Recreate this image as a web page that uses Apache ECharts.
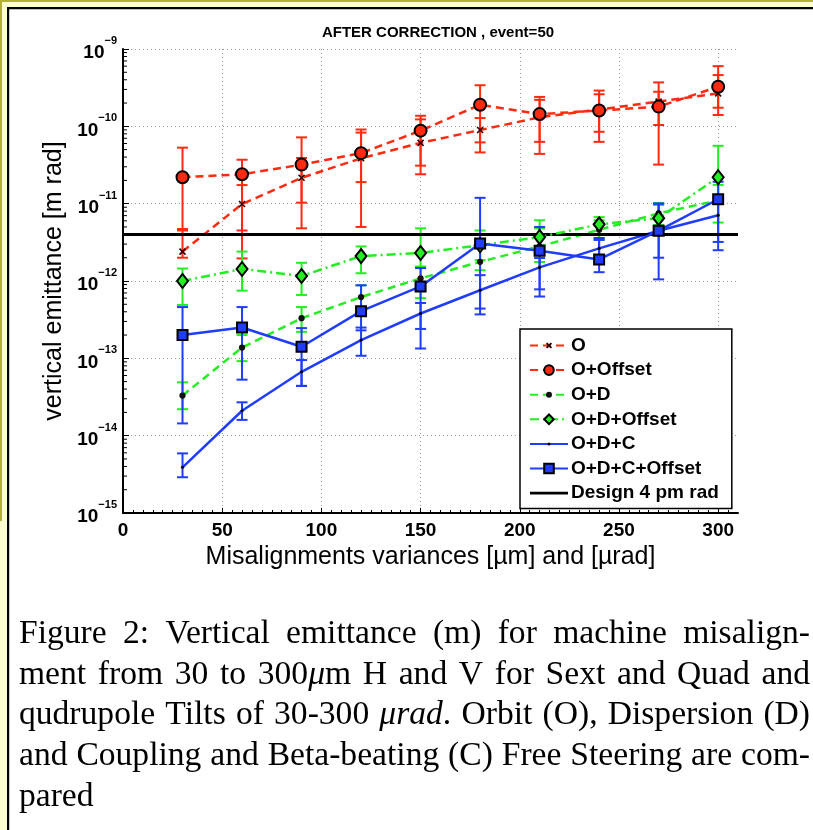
<!DOCTYPE html>
<html><head><meta charset="utf-8">
<script src="https://cdn.jsdelivr.net/npm/echarts@6/dist/echarts.min.js"></script>
<style>html,body{margin:0;padding:0;background:#fff}#c{width:813px;height:830px}</style>
</head><body><div id="c"></div>
<script>
// ---------------- data ----------------
const xValues = [30, 60, 90, 120, 150, 180, 210, 240, 270, 300];
const xTickValues = [0, 50, 100, 150, 200, 250, 300];
const yTickExponents = [-15, -14, -13, -12, -11, -10, -9];

const oVals  = [2.4e-12, 9.9e-12, 2.16e-11, 3.86e-11, 6.1e-11, 8.95e-11, 1.31e-10, 1.65e-10, 2.09e-10, 2.67e-10];
const oLo    = [2.0e-12, 1.96e-12, 1.03e-11, 1.9e-11, 3.1e-11, 6.2e-11, 6.3e-11, 8.5e-11, 1.04e-10, 1.74e-10];
const oHi    = [4.7e-12, 1.74e-11, 3.9e-11, 8.3e-11, 1.23e-10, 1.28e-10, 2.2e-10, 2.6e-10, 2.8e-10, 4.6e-10];

const ooVals = [2.2e-11, 2.4e-11, 3.2e-11, 4.5e-11, 8.8e-11, 1.9e-10, 1.44e-10, 1.6e-10, 1.8e-10, 3.25e-10];
const ooLo   = [4.5e-12, 4.5e-12, 4.8e-12, 5.0e-12, 2.4e-11, 4.6e-11, 4.4e-11, 6.3e-11, 3.2e-11, 1.4e-10];
const ooHi   = [5.3e-11, 3.7e-11, 7.2e-11, 9.1e-11, 1.37e-10, 3.4e-10, 2.4e-10, 2.9e-10, 3.7e-10, 6.0e-10];

const odVals = [3.3e-14, 1.38e-13, 3.3e-13, 6.2e-13, 1.08e-12, 1.77e-12, 2.8e-12, 4.6e-12, 7.5e-12, 1.1e-11];
const odLo   = [2.2e-14, 9.2e-14, 2.2e-13, 4.6e-13, 6.0e-13, 1.38e-12, 1.76e-12, 3.4e-12, 5.3e-12, 5.7e-12];
const odHi   = [4.9e-14, 2.0e-13, 4.6e-13, 8.8e-13, 1.53e-12, 3.4e-12, 4.8e-12, 6.1e-12, 1.02e-11, 1.75e-11];

const odoVals = [1.0e-12, 1.43e-12, 1.16e-12, 2.1e-12, 2.3e-12, 2.9e-12, 3.7e-12, 5.4e-12, 6.5e-12, 2.2e-11];
const odoLo   = [4.9e-13, 7.5e-13, 6.6e-13, 1.26e-12, 1.53e-12, 1.86e-12, 2.5e-12, 3.6e-12, 4.3e-12, 1.0e-11];
const odoHi   = [1.45e-12, 2.4e-12, 1.72e-12, 2.8e-12, 4.8e-12, 4.5e-12, 6.1e-12, 6.7e-12, 9.6e-12, 5.6e-11];

const odcVals = [3.9e-15, 2.1e-14, 6.7e-14, 1.72e-13, 3.8e-13, 7.6e-13, 1.5e-12, 2.64e-12, 4.47e-12, 7.1e-12];
const odcLo   = [2.9e-15, 1.6e-14, 4.4e-14, 1.08e-13, 1.34e-13, 4.4e-13, 7.8e-13, 1.76e-12, 2.0e-12, 3.2e-12];
const odcHi   = [5.9e-15, 2.7e-14, 9.5e-14, 2.5e-13, 5.2e-13, 1.19e-12, 1.98e-12, 3.4e-12, 1.0e-11, 1.0e-11];

const odcoVals = [2.0e-13, 2.5e-13, 1.41e-13, 4.07e-13, 8.5e-13, 3.06e-12, 2.46e-12, 1.9e-12, 4.47e-12, 1.14e-11];
const odcoLo   = [1.44e-14, 5.3e-14, 4.4e-14, 2.3e-13, 2.4e-13, 3.7e-13, 6.3e-13, 1.3e-12, 1.05e-12, 2.5e-12];
const odcoHi   = [4.6e-13, 4.6e-13, 2.46e-13, 8.8e-13, 1.47e-12, 1.19e-11, 5.0e-12, 3.6e-12, 1.0e-11, 1.92e-11];

const designX = [0, 310];
const designValue = 4e-12;

const minorMultipliers = [2, 3, 4, 5, 6, 7, 8, 9];

const titleText = 'AFTER CORRECTION , event=50';
const xName = 'Misalignments variances [\u00b5m] and [\u00b5rad]';
const yName = 'vertical emittance [m rad]';
const captionLines = [
  'Figure 2:  Vertical emittance (m) for machine misalign-',
  'ment from 30 to 300*\u03bc*m H and V for Sext and Quad and',
  'qudrupole Tilts of 30-300 *\u03bcrad*. Orbit (O), Dispersion (D)',
  'and Coupling and Beta-beating (C) Free Steering are com-',
  'pared'
];

// ---------------- styling ----------------
const SANS = '"Liberation Sans", Arial, Helvetica, sans-serif';
const SERIF = '"Liberation Serif", "Times New Roman", serif';
const RED = '#ff2a10', GREEN = '#22ee22', BLUE = '#1f3cff';
const GRID = {left: 123, top: 49, right: 75, bottom: 317};

function zip(v) { return xValues.map((x, i) => [x, v[i]]); }
function zipErr(lo, hi) { return xValues.map((x, i) => [x, lo[i], hi[i]]); }

function errRender(color) {
  return function (params, api) {
    const x = api.value(0);
    const p1 = api.coord([x, api.value(2)]);
    const p2 = api.coord([x, api.value(1)]);
    const hw = 5.5;
    const style = {stroke: color, lineWidth: 2};
    return {type: 'group', children: [
      {type: 'line', shape: {x1: p1[0], y1: p1[1], x2: p2[0], y2: p2[1]}, style: style},
      {type: 'line', shape: {x1: p1[0] - hw, y1: p1[1], x2: p1[0] + hw, y2: p1[1]}, style: style},
      {type: 'line', shape: {x1: p2[0] - hw, y1: p2[1], x2: p2[0] + hw, y2: p2[1]}, style: style}
    ]};
  };
}
function errSeries(name, lo, hi, color) {
  return {
    type: 'custom', name: name + ' err', renderItem: errRender(color),
    data: zipErr(lo, hi), encode: {x: 0, y: [1, 2]}, z: 2, silent: true, clip: true
  };
}

const minorData = [];
yTickExponents.slice(0, -1).forEach(e => minorMultipliers.forEach(m => minorData.push([0, m * Math.pow(10, e)])));

// padded marker paths (so the legend icons stay small like the plot markers)
const xMark = 'path://M0,0M16,16M4,4L12,12M12,4L4,12';
const dotMark = 'path://M0,0M16,16M3,8A5,5 0 1 1 13,8A5,5 0 1 1 3,8Z';
const tinyDot = 'path://M0,0M32,32M11,16A5,5 0 1 1 21,16A5,5 0 1 1 11,16Z';

const series = [
  errSeries('O', oLo, oHi, RED),
  errSeries('O+Offset', ooLo, ooHi, RED),
  errSeries('O+D', odLo, odHi, GREEN),
  errSeries('O+D+Offset', odoLo, odoHi, GREEN),
  errSeries('O+D+C', odcLo, odcHi, BLUE),
  errSeries('O+D+C+Offset', odcoLo, odcoHi, BLUE),
  {
    type: 'line', name: 'O', data: zip(oVals), z: 3,
    lineStyle: {color: RED, width: 2.5, type: [8, 5]},
    symbol: xMark, symbolSize: 12,
    itemStyle: {color: '#000', borderColor: '#300', borderWidth: 1.6}
  },
  {
    type: 'line', name: 'O+Offset', data: zip(ooVals), z: 4,
    lineStyle: {color: RED, width: 2.5, type: [8, 5]},
    symbol: 'circle', symbolSize: 12,
    itemStyle: {color: RED, borderColor: '#000', borderWidth: 2}
  },
  {
    type: 'line', name: 'O+D', data: zip(odVals), z: 3,
    lineStyle: {color: GREEN, width: 2.5, type: [8, 5]},
    symbol: dotMark, symbolSize: 10,
    itemStyle: {color: '#111', borderWidth: 0}
  },
  {
    type: 'line', name: 'O+D+Offset', data: zip(odoVals), z: 4,
    lineStyle: {color: GREEN, width: 2.5, type: [9, 4, 2, 4]},
    symbol: 'diamond', symbolSize: [11, 14],
    itemStyle: {color: GREEN, borderColor: '#000', borderWidth: 2}
  },
  {
    type: 'line', name: 'O+D+C', data: zip(odcVals), z: 3,
    lineStyle: {color: BLUE, width: 2.5},
    symbol: tinyDot, symbolSize: 10,
    itemStyle: {color: '#000', borderWidth: 0}
  },
  {
    type: 'line', name: 'O+D+C+Offset', data: zip(odcoVals), z: 4,
    lineStyle: {color: BLUE, width: 2.5},
    symbol: 'rect', symbolSize: 10,
    itemStyle: {color: BLUE, borderColor: '#000', borderWidth: 2}
  },
  {
    type: 'line', name: 'Design 4 pm rad', data: designX.map(x => [x, designValue]), z: 3,
    lineStyle: {color: '#000', width: 3}, symbol: 'none', showSymbol: false,
    itemStyle: {color: '#000'}
  },
  {
    type: 'custom', name: 'minor', silent: true, z: 5,
    data: minorData, encode: {x: 0, y: 1},
    renderItem: function (params, api) {
      const p = api.coord([api.value(0), api.value(1)]);
      return {type: 'line', shape: {x1: p[0], y1: p[1], x2: p[0] + 4, y2: p[1]}, style: {stroke: '#000', lineWidth: 1}};
    }
  }
];

// ---------------- caption layout (justified) ----------------
const capCtx = document.createElement('canvas').getContext('2d');
const capLeft = 19, capRight = 810, capY0 = 634, capDy = 40.8;
function capFont(size, it) { return (it ? 'italic ' : '') + size + 'px ' + SERIF; }
function measure(s, it, size) { capCtx.font = capFont(size, it); return capCtx.measureText(s).width; }
function parseLine(line) {
  return line.split(/\s+/).map(w => w.split('*').map((t, k) => ({t: t, it: k % 2 === 1})).filter(s => s.t.length));
}
// font size chosen so the fullest line just fits with normal word spacing
let maxNat = 0;
captionLines.slice(0, -1).forEach(line => {
  const words = parseLine(line);
  let w = 0;
  words.forEach(segs => segs.forEach(s => w += measure(s.t, s.it, 28)));
  w += (words.length - 1) * measure(' ', false, 28);
  maxNat = Math.max(maxNat, w);
});
const CAP_SIZE = Math.min(36, 28 * (capRight - capLeft) / maxNat * 0.995);
const captionEls = [];
captionLines.forEach((line, li) => {
  const words = parseLine(line).map(segs => {
    segs.forEach(s => s.w = measure(s.t, s.it, CAP_SIZE));
    return {segs: segs, w: segs.reduce((a, s) => a + s.w, 0)};
  });
  const total = words.reduce((a, w) => a + w.w, 0);
  const last = li === captionLines.length - 1;
  const gap = last ? measure(' ', false, CAP_SIZE) : (capRight - capLeft - total) / (words.length - 1);
  let x = capLeft;
  const y = capY0 + li * capDy;
  words.forEach(w => {
    w.segs.forEach(s => {
      captionEls.push({type: 'text', x: x, y: y, silent: true,
        style: {text: s.t, fontSize: CAP_SIZE, fontFamily: SERIF, fontStyle: s.it ? 'italic' : 'normal',
                fill: '#000', align: 'left', verticalAlign: 'middle'}});
      x += s.w;
    });
    x += gap;
  });
});

const frameEls = [
  {type: 'rect', shape: {x: 0, y: 0, width: 813, height: 7}, style: {fill: '#fdfdd2'}, silent: true},
  {type: 'rect', shape: {x: 0, y: 0, width: 7, height: 830}, style: {fill: '#fdfdd2'}, silent: true},
  {type: 'rect', shape: {x: 0, y: 0, width: 813, height: 2}, style: {fill: '#b3b03a'}, silent: true},
  {type: 'rect', shape: {x: 0, y: 0, width: 2, height: 521}, style: {fill: '#b3b03a'}, silent: true},
  {type: 'rect', shape: {x: 7, y: 7, width: 806, height: 2.2}, style: {fill: '#000'}, silent: true},
  {type: 'rect', shape: {x: 7, y: 7, width: 2.2, height: 823}, style: {fill: '#000'}, silent: true}
];

const option = {
  backgroundColor: '#fff',
  animation: false,
  title: {
    text: titleText, left: 433, top: 20, textAlign: 'center',
    textStyle: {fontSize: 15, fontWeight: 'bold', fontFamily: SANS, color: '#000'}
  },
  grid: GRID,
  legend: {
    orient: 'vertical', left: 520, top: 329,
    backgroundColor: '#fff', borderColor: '#000', borderWidth: 1.5, borderRadius: 0,
    padding: [7, 13, 6, 9],
    itemWidth: 38, itemHeight: 12, itemGap: 5.6,
    textStyle: {fontSize: 19, fontWeight: 'bold', fontFamily: SANS, color: '#000', padding: [0, 0, 0, -2]},
    data: ['O', 'O+Offset', 'O+D', 'O+D+Offset', 'O+D+C', 'O+D+C+Offset',
           {name: 'Design 4 pm rad', icon: 'path://M0,0L40,0L40,3L0,3Z', itemStyle: {color: '#000'}}],
    selectedMode: false
  },
  xAxis: {
    type: 'value', min: 0, max: 310, interval: 50,
    name: xName, nameLocation: 'middle', nameGap: 27,
    nameTextStyle: {fontSize: 25, fontFamily: SANS, color: '#000'},
    axisLine: {show: true, lineStyle: {color: '#000', width: 2}},
    axisTick: {show: true, inside: true, length: 5, lineStyle: {color: '#000', width: 1}, customValues: xTickValues},
    minorTick: {show: true, splitNumber: 10, length: 3, lineStyle: {color: '#000', width: 1}},
    axisLabel: {customValues: xTickValues, margin: 8, fontSize: 19, fontWeight: 'bold', fontFamily: SANS, color: '#000'},
    splitLine: {show: true, lineStyle: {color: '#9a9a9a', type: [1, 3], width: 1}}
  },
  yAxis: {
    type: 'log', logBase: 10, min: 1e-15, max: 1e-9, splitNumber: 6,
    name: yName, nameLocation: 'middle', nameGap: 50, nameRotate: 90,
    nameTextStyle: {fontSize: 25, fontFamily: SANS, color: '#000'},
    axisLine: {show: true, lineStyle: {color: '#000', width: 2}},
    axisTick: {show: true, inside: true, length: 6, lineStyle: {color: '#000', width: 1}},
    axisLabel: {
      margin: 6, color: '#000',
      formatter: function (v) {
        const e = Math.round(Math.log10(v));
        return '{b|10}{s|' + (e < 0 ? '\u2212' : '') + Math.abs(e) + '}';
      },
      rich: {
        b: {fontSize: 19, fontWeight: 'bold', fontFamily: SANS, color: '#000', lineHeight: 27, verticalAlign: 'bottom'},
        s: {fontSize: 11, fontWeight: 'bold', fontFamily: SANS, color: '#000', verticalAlign: 'top', lineHeight: 12}
      }
    },
    splitLine: {show: true, lineStyle: {color: '#9a9a9a', type: [1, 3], width: 1}}
  },
  graphic: {elements: frameEls.concat(captionEls)},
  series: series
};

const chart = echarts.init(document.getElementById('c'), null, {renderer: 'canvas'});
chart.setOption(option);
</script>
</body></html>
